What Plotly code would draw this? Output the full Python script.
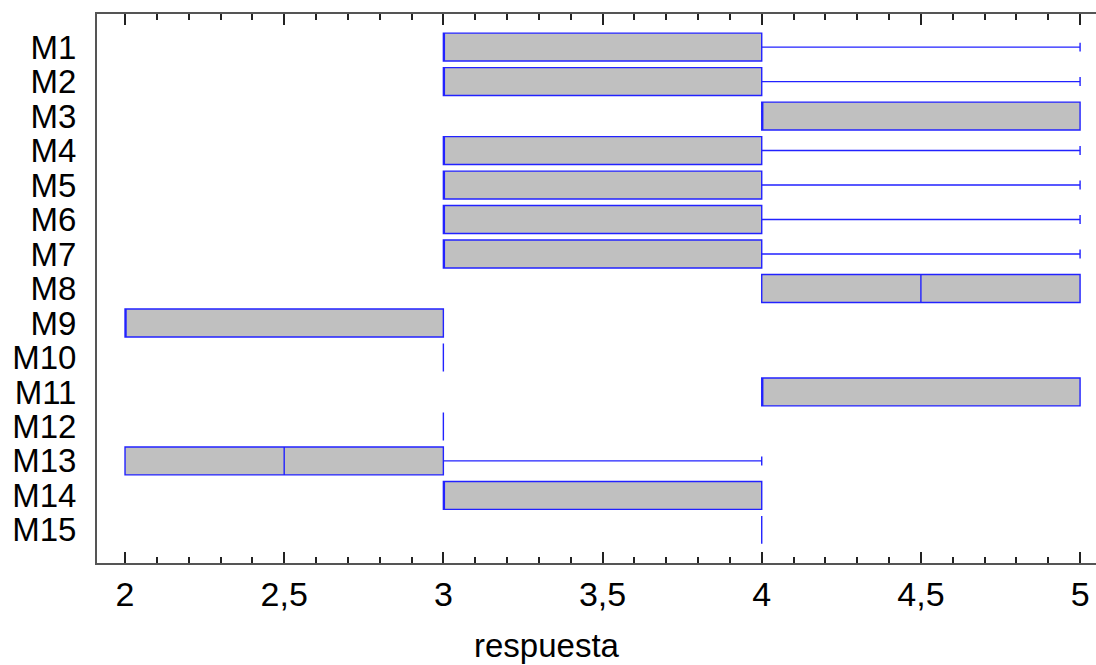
import plotly.graph_objects as go

categories = ["M1", "M2", "M3", "M4", "M5", "M6", "M7", "M8", "M9", "M10",
              "M11", "M12", "M13", "M14", "M15"]
q1 =         [3, 3, 4, 3, 3, 3, 3, 4,   2, 3, 4, 3, 2,   3, 4]
median =     [3, 3, 4, 3, 3, 3, 3, 4.5, 2, 3, 4, 3, 2.5, 3, 4]
q3 =         [4, 4, 5, 4, 4, 4, 4, 5,   3, 3, 5, 3, 3,   4, 4]
lowerfence = [3, 3, 4, 3, 3, 3, 3, 4,   2, 3, 4, 3, 2,   3, 4]
upperfence = [5, 5, 5, 5, 5, 5, 5, 5,   3, 3, 5, 3, 4,   4, 4]
x_ticks = [2, 2.5, 3, 3.5, 4, 4.5, 5]
x_range = [1.912, 5.05]

fig = go.Figure()
fig.add_trace(go.Box(
    y=categories, q1=q1, median=median, q3=q3,
    lowerfence=lowerfence, upperfence=upperfence,
    orientation="h",
    fillcolor="#c0c0c0",
    line=dict(color="#2222ff", width=1.4),
    width=0.81,
    whiskerwidth=0.32,
    boxpoints=False,
    hoverinfo="skip",
    showlegend=False,
))
# invisible trace so the top (mirror) axis is drawn
fig.add_trace(go.Scatter(x=x_range, y=[categories[0], categories[0]], xaxis="x2",
                         mode="markers", marker=dict(opacity=0), hoverinfo="skip",
                         showlegend=False))

fig.update_layout(
    width=1096, height=665,
    margin=dict(l=97, r=0, t=14, b=102),
    paper_bgcolor="white", plot_bgcolor="white",
    separators=",.",
    font=dict(family="Liberation Sans, Arial, sans-serif", size=33, color="black"),
    xaxis=dict(
        range=x_range,
        tickvals=x_ticks,
        ticks="inside", ticklen=11, tickwidth=2, tickcolor="#222",
        showline=True, linecolor="#555", linewidth=2,
        showgrid=False, zeroline=False,
        minor=dict(dtick=0.1, tick0=0, ticks="inside", ticklen=6, tickwidth=1.6,
                   tickcolor="#222", showgrid=False),
        tickfont=dict(size=34),
    ),
    xaxis2=dict(
        overlaying="x", side="top", matches="x", range=x_range,
        tickvals=x_ticks, showticklabels=False,
        ticks="inside", ticklen=11, tickwidth=2, tickcolor="#222",
        showline=True, linecolor="#555", linewidth=2,
        showgrid=False, zeroline=False,
        minor=dict(dtick=0.1, tick0=0, ticks="inside", ticklen=6, tickwidth=1.6,
                   tickcolor="#222", showgrid=False),
    ),
    yaxis=dict(
        type="category",
        categoryorder="array", categoryarray=categories,
        tickmode="array", tickvals=categories, ticktext=categories,
        range=[14.96, -0.96],
        showline=True, linecolor="#555", linewidth=2,
        ticks="", showgrid=False, zeroline=False,
        ticklabelstandoff=12,
        tickfont=dict(size=33),
    ),
    annotations=[dict(
        text="respuesta", xref="paper", yref="paper",
        x=0.45, y=-0.15, xanchor="center", yanchor="middle",
        showarrow=False, font=dict(size=33),
    )],
)

fig.write_html("out.html")
